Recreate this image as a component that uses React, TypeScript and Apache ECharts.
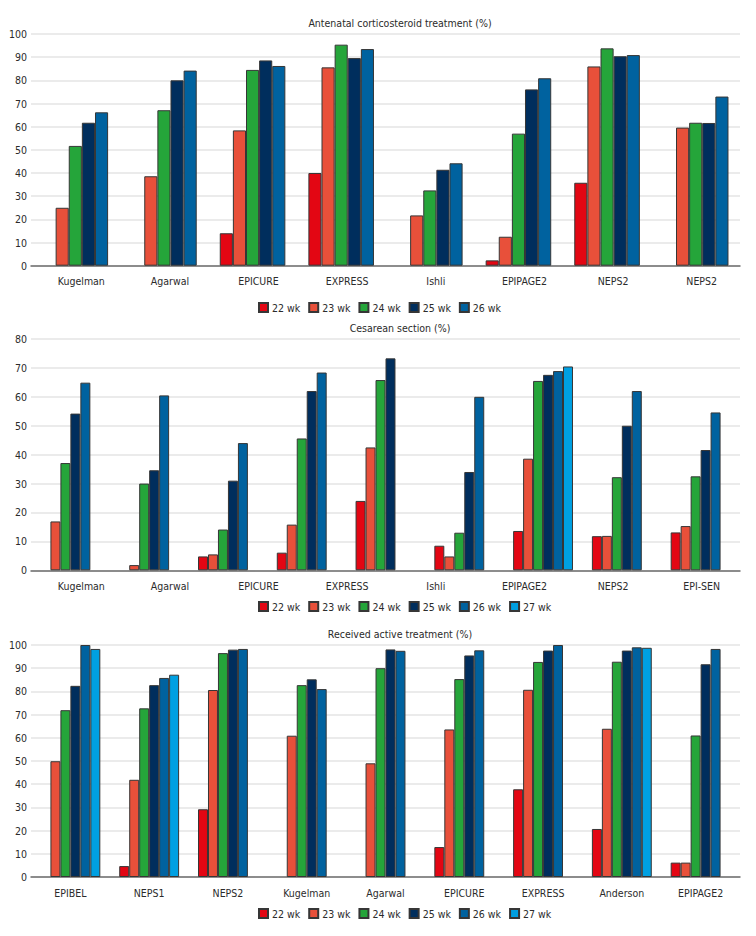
import React, { useEffect, useRef } from "react";
import * as echarts from "echarts";

const FONT = "'Liberation Sans Narrow', 'Arial Narrow', 'DejaVu Sans Condensed', sans-serif";
const TEXT = "#2b2b2b";
const FS = 10.5;

const weekNames = ["22 wk", "23 wk", "24 wk", "25 wk", "26 wk", "27 wk"];
const weekColors = ["#E30613", "#E8503A", "#25A53A", "#002E5D", "#00629F", "#00A0E2"];

// Panel 1: Antenatal corticosteroid treatment (%)
const title1 = "Antenatal corticosteroid treatment (%)";
const cats1 = ["Kugelman", "Agarwal", "EPICURE", "EXPRESS", "Ishli", "EPIPAGE2", "NEPS2", "NEPS2"];
const acs22 = [null, null, 14, 40, null, 2.3, 35.8, null];
const acs23 = [25, 38.6, 58.4, 85.6, 21.7, 12.5, 86, 59.6];
const acs24 = [51.7, 67.1, 84.5, 95.4, 32.5, 57, 93.8, 61.7];
const acs25 = [61.7, 80, 88.6, 89.6, 41.4, 76.1, 90.4, 61.6];
const acs26 = [66.2, 84.2, 86.2, 93.5, 44.2, 80.9, 90.9, 73];

// Panel 2: Cesarean section (%) — 9 bar groups, 8 printed labels
const title2 = "Cesarean section (%)";
const cats2Groups = ["Kugelman", "Agarwal", "EPICURE", "EPICURE (b)", "EXPRESS", "Ishli", "EPIPAGE2", "NEPS2", "EPI-SEN"];
const cats2Labels = ["Kugelman", "Agarwal", "EPICURE", "EXPRESS", "Ishli", "EPIPAGE2", "NEPS2", "EPI-SEN"];
const cs22 = [null, null, 4.8, 6.1, 24, 8.5, 13.6, 11.8, 13.1];
const cs23 = [16.9, 1.8, 5.5, 15.8, 42.5, 4.8, 38.6, 11.9, 15.3];
const cs24 = [37.1, 30, 14.1, 45.6, 65.8, 13, 65.5, 32.2, 32.5];
const cs25 = [54.2, 34.6, 31, 62, 73.3, 34, 67.6, 50, 41.6];
const cs26 = [64.9, 60.5, 44, 68.4, null, 60, 68.9, 62, 54.6];
const cs27 = [null, null, null, null, null, null, 70.5, null, null];

// Panel 3: Received active treatment (%)
const title3 = "Received active treatment (%)";
const cats3 = ["EPIBEL", "NEPS1", "NEPS2", "Kugelman", "Agarwal", "EPICURE", "EXPRESS", "Anderson", "EPIPAGE2"];
const rat22 = [null, 4.7, 29.2, null, null, 12.9, 37.8, 20.7, 6.2];
const rat23 = [49.9, 41.9, 80.6, 60.9, 49, 63.6, 80.7, 63.9, 6.2];
const rat24 = [71.9, 72.7, 96.5, 82.7, 90, 85.3, 92.7, 92.8, 61];
const rat25 = [82.4, 82.7, 98, 85.2, 98.1, 95.5, 97.6, 97.6, 91.7];
const rat26 = [100, 85.8, 98.3, 81, 97.5, 97.7, 100, 99, 98.3];
const rat27 = [98.3, 87.2, null, null, null, null, null, 98.8, null];

const panel1 = [acs22, acs23, acs24, acs25, acs26];
const panel2 = [cs22, cs23, cs24, cs25, cs26, cs27];
const panel3 = [rat22, rat23, rat24, rat25, rat26, rat27];

function makeSeries(values: (number | null)[][], xAxisIndex: number, yAxisIndex: number) {
  return values.map((data, i) => ({
    type: "bar",
    name: weekNames[i],
    xAxisIndex,
    yAxisIndex,
    data,
    barGap: "0%",
    barCategoryGap: xAxisIndex === 0 ? "26%" : "24%",
    itemStyle: { color: weekColors[i], borderColor: "#363636", borderWidth: 1 },
  }));
}

const gridLeft = 31;
const gridWidth = 709;

function yAxis(gridIndex: number, max: number) {
  return {
    type: "value",
    gridIndex,
    min: 0,
    max,
    interval: 10,
    axisLine: { show: false },
    axisTick: { show: false },
    axisLabel: { color: TEXT, fontFamily: FONT, fontSize: FS, margin: 4 },
    splitLine: { lineStyle: { color: "#e5e5e5", width: 1.5 } },
  };
}

const axisLineStyle = { show: true, lineStyle: { color: "#6e6e6e", width: 1.5 } };

export default function App() {
  const ref = useRef<HTMLDivElement>(null);
  useEffect(() => {
    document.body.style.margin = "0";
    if (!ref.current) return;
    const chart = echarts.init(ref.current, null, { renderer: "svg" });
    const labelStyle = { color: TEXT, fontFamily: FONT, fontSize: FS, margin: 10 };
    const titleStyle = (text: string) => ({ text, fill: TEXT, font: `${FS}px ${FONT}`, textAlign: "center", textVerticalAlign: "middle" });
    chart.setOption({
      animation: false,
      backgroundColor: "#ffffff",
      textStyle: { fontFamily: FONT },
      graphic: [
        { type: "text", x: 400, y: 23, style: titleStyle(title1) },
        { type: "text", x: 400, y: 328, style: titleStyle(title2) },
        { type: "text", x: 400, y: 634, style: titleStyle(title3) },
      ],
      legend: [
        { data: weekNames.slice(0, 5), left: 258, top: 302 },
        { data: weekNames, left: 258, top: 601 },
        { data: weekNames, left: 258, top: 908 },
      ].map((l) => ({
        ...l,
        padding: 0,
        icon: "rect",
        itemWidth: 9,
        itemHeight: 9,
        itemGap: 8,
        selectedMode: false,
        textStyle: { color: TEXT, fontFamily: FONT, fontSize: FS, padding: [0, 0, 0, -1] },
      })),
      grid: [
        { left: gridLeft, width: gridWidth, top: 34, height: 231.7 },
        { left: gridLeft, width: gridWidth, top: 339, height: 231.3 },
        { left: gridLeft, width: gridWidth, top: 645, height: 232 },
      ],
      xAxis: [
        {
          type: "category",
          gridIndex: 0,
          data: cats1,
          axisLine: axisLineStyle,
          axisTick: { show: false },
          axisLabel: { ...labelStyle, padding: [0, 0, 0, 12] },
        },
        {
          type: "category",
          gridIndex: 1,
          data: cats2Groups,
          position: "bottom",
          axisLine: axisLineStyle,
          axisTick: { show: false },
          axisLabel: { show: false },
        },
        {
          type: "category",
          gridIndex: 1,
          data: cats2Labels,
          position: "bottom",
          offset: 0,
          axisLine: { show: false },
          axisTick: { show: false },
          axisLabel: { ...labelStyle, padding: [0, 0, 0, 12] },
        },
        {
          type: "category",
          gridIndex: 2,
          data: cats3,
          axisLine: axisLineStyle,
          axisTick: { show: false },
          axisLabel: { ...labelStyle, interval: 0 },
        },
      ],
      yAxis: [yAxis(0, 100), yAxis(1, 80), yAxis(2, 100)],
      series: [
        ...makeSeries(panel1, 0, 0),
        ...makeSeries(panel2, 1, 1),
        ...makeSeries(panel3, 3, 2),
      ],
    });
    return () => chart.dispose();
  }, []);
  return <div ref={ref} style={{ width: 756, height: 936, position: "absolute", left: 0, top: 0 }} />;
}
